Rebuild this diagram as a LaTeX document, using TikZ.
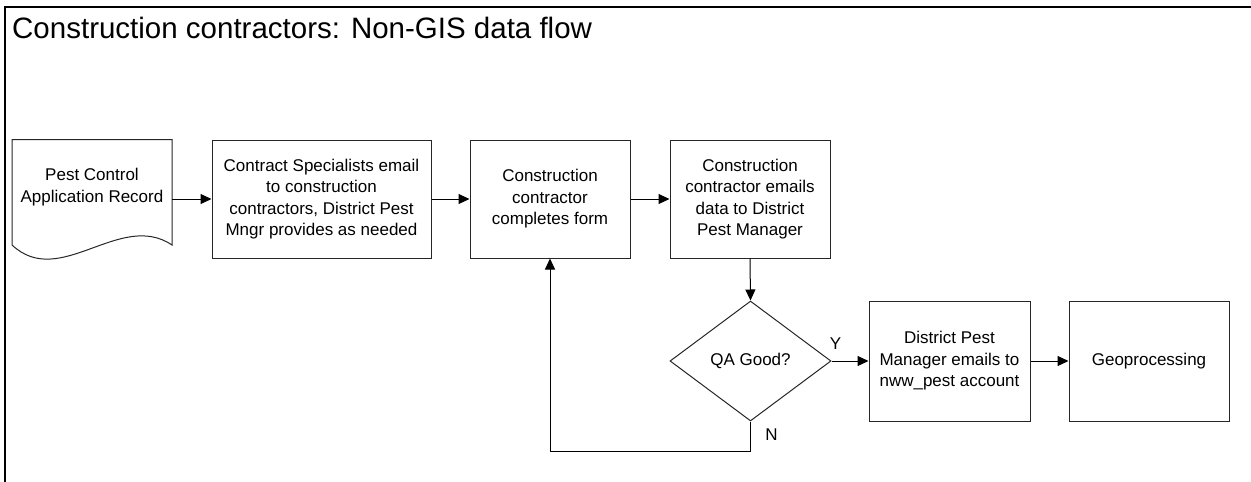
\documentclass[tikz,border=0pt]{standalone}
\usepackage{fontspec}
\setmainfont{Liberation Sans}
\usetikzlibrary{arrows.meta,shapes.geometric,calc}
\begin{document}
\begin{tikzpicture}[x=1pt,y=-1pt,
  lbl/.style={font=\fontsize{17}{21.5}\selectfont, align=center, inner sep=0pt},
  box/.style={draw=black!85, line width=1pt, lbl},
  decision/.style={diamond, draw=black!85, line width=1pt, lbl},
  arr/.style={draw=black, line width=1pt, -{Triangle[length=11pt,width=10pt]}},
  frame/.style={draw=black, line width=2.2pt},
  shapeline/.style={draw=black!85, line width=1pt},
]
\useasboundingbox (0,0) rectangle (1251,482);
% frame
\draw[frame] (5,486) -- (5,7) -- (1256,7);
% title
\node[anchor=base west, inner sep=0pt, font=\fontsize{29.5}{34}\selectfont] (title) at (12,38.5) {Construction contractors: Non-GIS data flow};
% document shape
\draw[shapeline] (12,245) -- (12,139.5) -- (172,139.5) -- (172,245) .. controls (120,210) and (60,290) .. (12,245);
\node[lbl, minimum width=160] (doc) at (92,187) {Pest Control\\Application Record};
% boxes
\node[box, minimum width=219, minimum height=118] (b2) at (321.5,199) {Contract Specialists email\\to construction\\contractors, District Pest\\Mngr provides as needed};
\node[box, minimum width=160, minimum height=118] (b3) at (550,199) {Construction\\contractor\\completes form};
\node[box, minimum width=160, minimum height=118] (b4) at (750,199) {Construction\\contractor emails\\data to District\\Pest Manager};
\node[decision, minimum width=161, minimum height=120] (qa) at (750.5,361) {QA Good?};
\node[box, minimum width=161, minimum height=120] (b5) at (949.5,361) {District Pest\\Manager emails to\\nww\_pest account};
\node[box, minimum width=160, minimum height=120] (b6) at (1149,361) {Geoprocessing};
% connectors
\draw[arr] (doc.east |- b2.west) -- (b2.west);
\draw[arr] (b2.east) -- (b3.west);
\draw[arr] (b3.east) -- (b4.west);
\draw[arr] (b4.south) -- (qa.north);
\draw[arr] (qa.east) -- (b5.west);
\draw[arr] (b5.east) -- (b6.west);
\draw[arr] (qa.south) -- ++(0,30) -| (b3.south);
% labels
\node[lbl] (ylab) at ($(qa.east)+(4,-17)$) {Y};
\node[lbl] (nlab) at ($(qa.south)+(21,13)$) {N};
\end{tikzpicture}
\end{document}
